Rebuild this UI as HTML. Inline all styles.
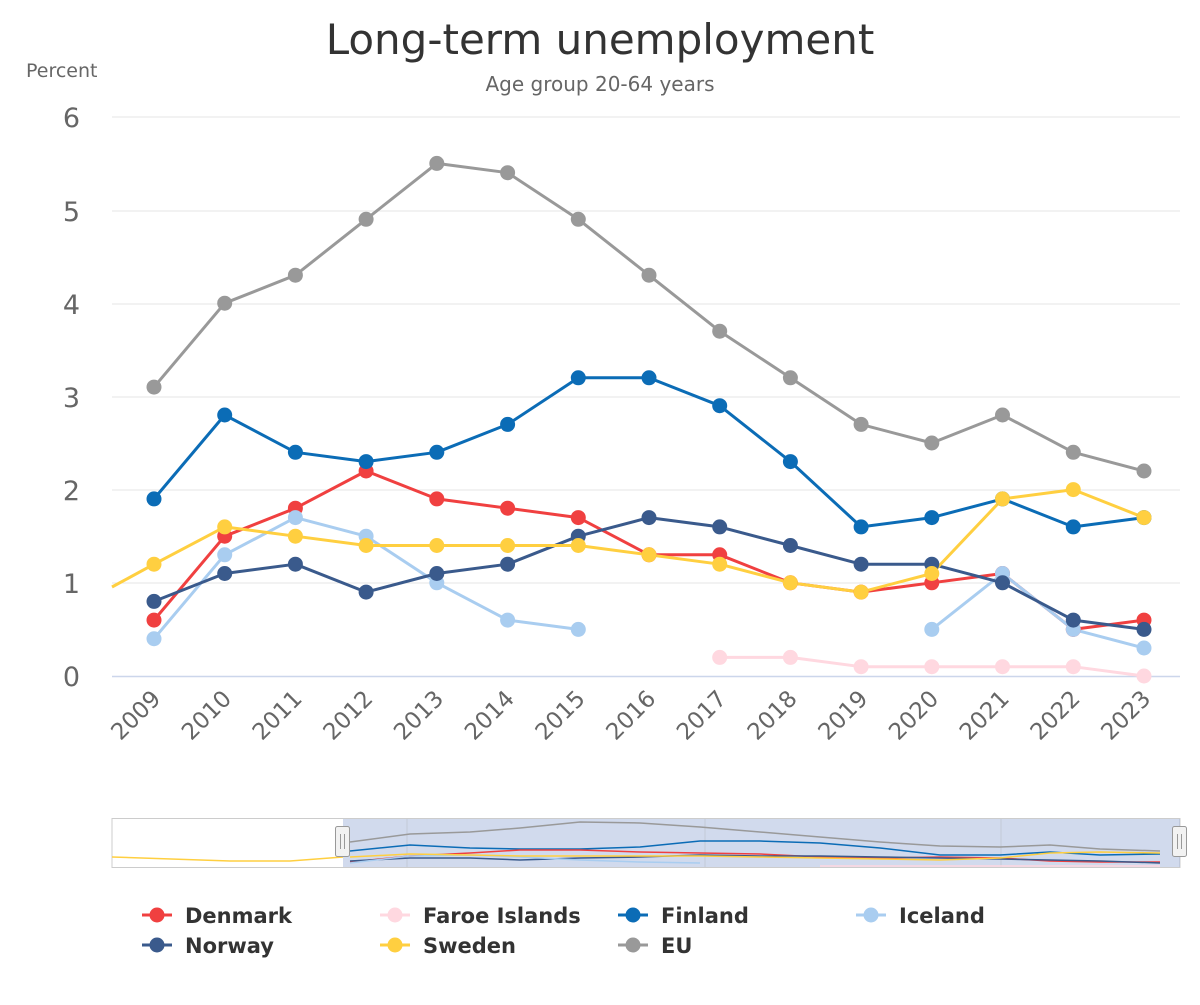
<!DOCTYPE html>
<html><head><meta charset="utf-8"><style>
body{margin:0;background:#fff;}
svg{font-family:"DejaVu Sans","Liberation Sans",sans-serif;}
</style></head><body>
<svg width="1200" height="1000" viewBox="0 0 1200 1000" xmlns="http://www.w3.org/2000/svg">
<text x="600" y="54" text-anchor="middle" font-size="42" fill="#333">Long-term unemployment</text>
<text x="600" y="91" text-anchor="middle" font-size="20" fill="#666">Age group 20-64 years</text>
<text x="26" y="77" font-size="19" fill="#666">Percent</text>
<g stroke="#e6e6e6" stroke-width="1">
<line x1="112" x2="1180" y1="117" y2="117"/><line x1="112" x2="1180" y1="211" y2="211"/><line x1="112" x2="1180" y1="304" y2="304"/><line x1="112" x2="1180" y1="397" y2="397"/><line x1="112" x2="1180" y1="490" y2="490"/><line x1="112" x2="1180" y1="583" y2="583"/>
</g>
<line x1="112" x2="1180" y1="676.5" y2="676.5" stroke="#ccd6eb" stroke-width="1.5"/>
<g font-size="27" fill="#666" text-anchor="end">
<text x="80" y="127">6</text><text x="80" y="221">5</text><text x="80" y="314">4</text><text x="80" y="407">3</text><text x="80" y="500">2</text><text x="80" y="593">1</text><text x="80" y="686">0</text>
</g>
<g font-size="23" fill="#666" text-anchor="end">
<text transform="translate(162,700) rotate(-45)">2009</text>
<text transform="translate(232.7,700) rotate(-45)">2010</text>
<text transform="translate(303.4,700) rotate(-45)">2011</text>
<text transform="translate(374.1,700) rotate(-45)">2012</text>
<text transform="translate(444.8,700) rotate(-45)">2013</text>
<text transform="translate(515.6,700) rotate(-45)">2014</text>
<text transform="translate(586.3,700) rotate(-45)">2015</text>
<text transform="translate(657,700) rotate(-45)">2016</text>
<text transform="translate(727.7,700) rotate(-45)">2017</text>
<text transform="translate(798.4,700) rotate(-45)">2018</text>
<text transform="translate(869.1,700) rotate(-45)">2019</text>
<text transform="translate(939.8,700) rotate(-45)">2020</text>
<text transform="translate(1010.5,700) rotate(-45)">2021</text>
<text transform="translate(1081.3,700) rotate(-45)">2022</text>
<text transform="translate(1152,700) rotate(-45)">2023</text>
</g>
<g fill="none" stroke-width="3" stroke-linejoin="round">
<polyline stroke="#f04040" points="154,620.1 224.7,536.2 295.4,508.2 366.1,471 436.8,498.9 507.6,508.2 578.3,517.6 649,554.8 719.7,554.8 790.4,582.8 861.1,592.1 931.8,582.8 1002.5,573.5 1073.3,629.4 1144,620.1"/>
<polyline stroke="#ffd8e0" points="719.7,657.4 790.4,657.4 861.1,666.7 931.8,666.7 1002.5,666.7 1073.3,666.7 1144,676"/>
<polyline stroke="#0b6cb6" points="154,498.9 224.7,415 295.4,452.3 366.1,461.6 436.8,452.3 507.6,424.4 578.3,377.8 649,377.8 719.7,405.7 790.4,461.6 861.1,526.9 931.8,517.6 1002.5,498.9 1073.3,526.9 1144,517.6"/>
<polyline stroke="#a9cdf0" points="154,638.7 224.7,554.8 295.4,517.6 366.1,536.2 436.8,582.8 507.6,620.1 578.3,629.4"/>
<polyline stroke="#a9cdf0" points="931.8,629.4 1002.5,573.5 1073.3,629.4 1144,648"/>
<polyline stroke="#3a5a8c" points="154,601.4 224.7,573.5 295.4,564.2 366.1,592.1 436.8,573.5 507.6,564.2 578.3,536.2 649,517.6 719.7,526.9 790.4,545.5 861.1,564.2 931.8,564.2 1002.5,582.8 1073.3,620.1 1144,629.4"/>
<polyline stroke="#ffcf40" points="112,587 154,564.2 224.7,526.9 295.4,536.2 366.1,545.5 436.8,545.5 507.6,545.5 578.3,545.5 649,554.8 719.7,564.2 790.4,582.8 861.1,592.1 931.8,573.5 1002.5,498.9 1073.3,489.6 1144,517.6"/>
<polyline stroke="#999999" points="154,387.1 224.7,303.2 295.4,275.2 366.1,219.3 436.8,163.4 507.6,172.7 578.3,219.3 649,275.2 719.7,331.2 790.4,377.8 861.1,424.4 931.8,443 1002.5,415 1073.3,452.3 1144,471"/>
</g>
<g fill="#f04040"><circle cx="154" cy="620.1" r="7.5"/><circle cx="224.7" cy="536.2" r="7.5"/><circle cx="295.4" cy="508.2" r="7.5"/><circle cx="366.1" cy="471" r="7.5"/><circle cx="436.8" cy="498.9" r="7.5"/><circle cx="507.6" cy="508.2" r="7.5"/><circle cx="578.3" cy="517.6" r="7.5"/><circle cx="649" cy="554.8" r="7.5"/><circle cx="719.7" cy="554.8" r="7.5"/><circle cx="790.4" cy="582.8" r="7.5"/><circle cx="861.1" cy="592.1" r="7.5"/><circle cx="931.8" cy="582.8" r="7.5"/><circle cx="1002.5" cy="573.5" r="7.5"/><circle cx="1073.3" cy="629.4" r="7.5"/><circle cx="1144" cy="620.1" r="7.5"/></g>
<g fill="#ffd8e0"><circle cx="719.7" cy="657.4" r="7.5"/><circle cx="790.4" cy="657.4" r="7.5"/><circle cx="861.1" cy="666.7" r="7.5"/><circle cx="931.8" cy="666.7" r="7.5"/><circle cx="1002.5" cy="666.7" r="7.5"/><circle cx="1073.3" cy="666.7" r="7.5"/><circle cx="1144" cy="676" r="7.5"/></g>
<g fill="#0b6cb6"><circle cx="154" cy="498.9" r="7.5"/><circle cx="224.7" cy="415" r="7.5"/><circle cx="295.4" cy="452.3" r="7.5"/><circle cx="366.1" cy="461.6" r="7.5"/><circle cx="436.8" cy="452.3" r="7.5"/><circle cx="507.6" cy="424.4" r="7.5"/><circle cx="578.3" cy="377.8" r="7.5"/><circle cx="649" cy="377.8" r="7.5"/><circle cx="719.7" cy="405.7" r="7.5"/><circle cx="790.4" cy="461.6" r="7.5"/><circle cx="861.1" cy="526.9" r="7.5"/><circle cx="931.8" cy="517.6" r="7.5"/><circle cx="1002.5" cy="498.9" r="7.5"/><circle cx="1073.3" cy="526.9" r="7.5"/><circle cx="1144" cy="517.6" r="7.5"/></g>
<g fill="#a9cdf0"><circle cx="154" cy="638.7" r="7.5"/><circle cx="224.7" cy="554.8" r="7.5"/><circle cx="295.4" cy="517.6" r="7.5"/><circle cx="366.1" cy="536.2" r="7.5"/><circle cx="436.8" cy="582.8" r="7.5"/><circle cx="507.6" cy="620.1" r="7.5"/><circle cx="578.3" cy="629.4" r="7.5"/><circle cx="931.8" cy="629.4" r="7.5"/><circle cx="1002.5" cy="573.5" r="7.5"/><circle cx="1073.3" cy="629.4" r="7.5"/><circle cx="1144" cy="648" r="7.5"/></g>
<g fill="#3a5a8c"><circle cx="154" cy="601.4" r="7.5"/><circle cx="224.7" cy="573.5" r="7.5"/><circle cx="295.4" cy="564.2" r="7.5"/><circle cx="366.1" cy="592.1" r="7.5"/><circle cx="436.8" cy="573.5" r="7.5"/><circle cx="507.6" cy="564.2" r="7.5"/><circle cx="578.3" cy="536.2" r="7.5"/><circle cx="649" cy="517.6" r="7.5"/><circle cx="719.7" cy="526.9" r="7.5"/><circle cx="790.4" cy="545.5" r="7.5"/><circle cx="861.1" cy="564.2" r="7.5"/><circle cx="931.8" cy="564.2" r="7.5"/><circle cx="1002.5" cy="582.8" r="7.5"/><circle cx="1073.3" cy="620.1" r="7.5"/><circle cx="1144" cy="629.4" r="7.5"/></g>
<g fill="#ffcf40"><circle cx="154" cy="564.2" r="7.5"/><circle cx="224.7" cy="526.9" r="7.5"/><circle cx="295.4" cy="536.2" r="7.5"/><circle cx="366.1" cy="545.5" r="7.5"/><circle cx="436.8" cy="545.5" r="7.5"/><circle cx="507.6" cy="545.5" r="7.5"/><circle cx="578.3" cy="545.5" r="7.5"/><circle cx="649" cy="554.8" r="7.5"/><circle cx="719.7" cy="564.2" r="7.5"/><circle cx="790.4" cy="582.8" r="7.5"/><circle cx="861.1" cy="592.1" r="7.5"/><circle cx="931.8" cy="573.5" r="7.5"/><circle cx="1002.5" cy="498.9" r="7.5"/><circle cx="1073.3" cy="489.6" r="7.5"/><circle cx="1144" cy="517.6" r="7.5"/></g>
<g fill="#999999"><circle cx="154" cy="387.1" r="7.5"/><circle cx="224.7" cy="303.2" r="7.5"/><circle cx="295.4" cy="275.2" r="7.5"/><circle cx="366.1" cy="219.3" r="7.5"/><circle cx="436.8" cy="163.4" r="7.5"/><circle cx="507.6" cy="172.7" r="7.5"/><circle cx="578.3" cy="219.3" r="7.5"/><circle cx="649" cy="275.2" r="7.5"/><circle cx="719.7" cy="331.2" r="7.5"/><circle cx="790.4" cy="377.8" r="7.5"/><circle cx="861.1" cy="424.4" r="7.5"/><circle cx="931.8" cy="443" r="7.5"/><circle cx="1002.5" cy="415" r="7.5"/><circle cx="1073.3" cy="452.3" r="7.5"/><circle cx="1144" cy="471" r="7.5"/></g>

<rect x="112" y="818.5" width="1068" height="49" fill="#fff" stroke="#ccc" stroke-width="1"/>
<rect x="343" y="819" width="837" height="48" fill="rgba(102,133,194,0.3)"/>
<g stroke="#c4c9d8" stroke-width="1"><line x1="407" y1="819" x2="407" y2="867"/><line x1="705" y1="819" x2="705" y2="867"/><line x1="1001" y1="819" x2="1001" y2="867"/></g>
<g fill="none" stroke-width="1.5">
<polyline stroke="#ffcf40" points="112,857 230,861 290,861 343,857"/>
<polyline stroke="#999" points="350,842 410,834 470,832 520,828 580,822 640,823 700,827 760,832 820,837 880,842 940,846 1000,847 1050,845 1100,849 1160,851"/>
<polyline stroke="#0b6cb6" points="350,851 410,845 470,848 520,849 580,849 640,847 700,841 760,841 820,843 880,848 940,855 1000,855 1050,852 1100,855 1160,854"/>
<polyline stroke="#f04040" points="350,862 410,856 470,853 520,850 580,850 640,852 700,853 760,854 820,857 880,858 940,857 1000,858 1050,861 1100,862 1160,862"/>
<polyline stroke="#3a5a8c" points="350,861 410,858 470,858 520,860 580,858 640,857 700,855 760,856 820,856 880,857 940,858 1000,859 1050,860 1100,861 1160,863"/>
<polyline stroke="#a9cdf0" points="350,863 410,856 470,855 520,857 580,860 640,862 700,863"/>
<polyline stroke="#ffcf40" points="350,857 410,854 470,855 520,856 580,856 640,856 700,856 760,857 820,858 880,859 940,860 1000,858 1050,853 1100,852 1160,853"/>
<polyline stroke="#ffd8e0" points="820,866 1160,866"/>
</g>
<g fill="#f2f2f2" stroke="#999" stroke-width="1">
<rect x="335.5" y="826.5" width="14" height="30" rx="2"/><rect x="1172.5" y="826.5" width="14" height="30" rx="2"/>
</g>
<g stroke="#999" stroke-width="1"><line x1="340.5" y1="834" x2="340.5" y2="849"/><line x1="344.5" y1="834" x2="344.5" y2="849"/><line x1="1177.5" y1="834" x2="1177.5" y2="849"/><line x1="1181.5" y1="834" x2="1181.5" y2="849"/></g>

<g font-size="21" font-weight="bold" fill="#333">
<line x1="142" x2="172" y1="915" y2="915" stroke="#f04040" stroke-width="3"/><circle cx="157" cy="915" r="7.5" fill="#f04040"/><text x="185" y="923">Denmark</text>
<line x1="380" x2="410" y1="915" y2="915" stroke="#ffd8e0" stroke-width="3"/><circle cx="395" cy="915" r="7.5" fill="#ffd8e0"/><text x="423" y="923">Faroe Islands</text>
<line x1="618" x2="648" y1="915" y2="915" stroke="#0b6cb6" stroke-width="3"/><circle cx="633" cy="915" r="7.5" fill="#0b6cb6"/><text x="661" y="923">Finland</text>
<line x1="856" x2="886" y1="915" y2="915" stroke="#a9cdf0" stroke-width="3"/><circle cx="871" cy="915" r="7.5" fill="#a9cdf0"/><text x="899" y="923">Iceland</text>
<line x1="142" x2="172" y1="945" y2="945" stroke="#3a5a8c" stroke-width="3"/><circle cx="157" cy="945" r="7.5" fill="#3a5a8c"/><text x="185" y="953">Norway</text>
<line x1="380" x2="410" y1="945" y2="945" stroke="#ffcf40" stroke-width="3"/><circle cx="395" cy="945" r="7.5" fill="#ffcf40"/><text x="423" y="953">Sweden</text>
<line x1="618" x2="648" y1="945" y2="945" stroke="#999" stroke-width="3"/><circle cx="633" cy="945" r="7.5" fill="#999"/><text x="661" y="953">EU</text>
</g>
</svg>
</body></html>
